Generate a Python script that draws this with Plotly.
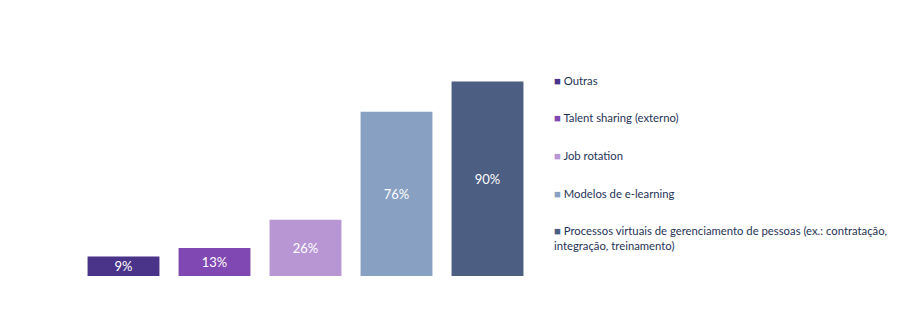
import plotly.graph_objects as go

# Adoption of practices (% of respondents)
categories = [
    "Outras",
    "Talent sharing (externo)",
    "Job rotation",
    "Modelos de e-learning",
    "Processos virtuais de gerenciamento de pessoas (ex.: contratação, integração, treinamento)",
]
legend_labels = [
    "Outras",
    "Talent sharing (externo)",
    "Job rotation",
    "Modelos de e-learning",
    "Processos virtuais de gerenciamento de pessoas (ex.: contratação,<br>integração, treinamento)",
]
values = [9, 13, 26, 76, 90]
colors = ["#4A3489", "#8048B2", "#B896D4", "#88A1C3", "#4C5E82"]

FONT = "Lato"
TEXT_COLOR = "#1F3458"

fig = go.Figure(
    go.Bar(
        x=categories,
        y=values,
        marker=dict(color=colors, line=dict(width=0)),
        text=[f"{v}%" for v in values],
        textposition="inside",
        insidetextanchor="middle",
        textangle=0,
        textfont=dict(family=FONT, size=13, color="white"),
        showlegend=False,
        hoverinfo="skip",
    )
)

# Legend drawn as colored square glyph + label, stacked top to bottom
legend_top = 0.945
legend_step = 0.174
for i, (label, color) in enumerate(zip(legend_labels, colors)):
    fig.add_annotation(
        xref="paper", yref="paper",
        x=1.042, y=legend_top - i * legend_step,
        xanchor="left", yanchor="top", align="left",
        showarrow=False,
        text=f"<span style='color:{color}'>■</span> {label}",
        font=dict(family=FONT, size=11.3, color=TEXT_COLOR),
    )

fig.update_layout(
    width=900, height=322,
    margin=dict(l=78, r=367, t=60, b=46),
    paper_bgcolor="white",
    plot_bgcolor="white",
    bargap=0.21,
    uniformtext=dict(minsize=13, mode="show"),
    xaxis=dict(visible=False),
    yaxis=dict(visible=False, range=[0, 100]),
    font=dict(family=FONT, color=TEXT_COLOR),
)

fig.write_html("out.html")
